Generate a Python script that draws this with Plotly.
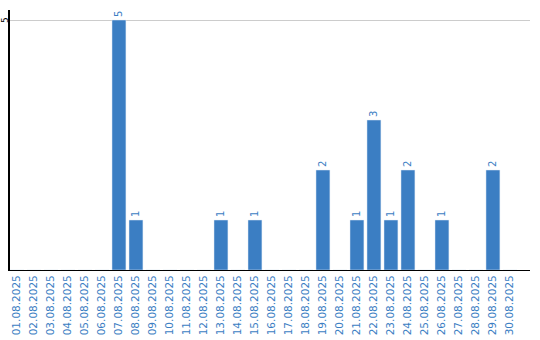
import plotly.graph_objects as go

dates = [f"{d:02d}.08.2025" for d in range(1, 31)]
counts = [0, 0, 0, 0, 0, 0, 5, 1, 0, 0, 0, 0, 1, 0, 1, 0, 0, 0, 2, 0,
          1, 3, 1, 2, 0, 1, 0, 0, 2, 0]
labels = [str(v) if v else "" for v in counts]
y_ticks = [5]

blue = "#3b7ec3"

fig = go.Figure(go.Bar(
    x=dates, y=counts, text=labels, textposition="outside",
    textangle=-90, cliponaxis=False, marker_color=blue,
    textfont=dict(family="DejaVu Sans", size=10, color=blue),
))
fig.update_layout(
    width=540, height=340,
    margin=dict(l=10, r=10, t=10, b=70),
    plot_bgcolor="white", paper_bgcolor="white",
    bargap=0.18, showlegend=False,
    font=dict(family="DejaVu Sans", size=10),
)
fig.update_xaxes(
    type="category", range=[-0.41, 30.18], tickangle=-90,
    showline=True, linecolor="black", linewidth=1, ticks="",
    tickfont=dict(family="DejaVu Sans", size=10.5, color=blue),
    showgrid=False, automargin=False,
)
fig.update_yaxes(
    range=[0, 5.2], tickvals=y_ticks, showticklabels=False,
    showline=True, linecolor="black", linewidth=1.5, ticks="",
    showgrid=True, gridcolor="#cccccc", zeroline=False,
    automargin=False,
)
for v in y_ticks:
    fig.add_annotation(
        x=0, xref="paper", y=v, yref="y", text=str(v), textangle=-90,
        showarrow=False, xanchor="center", yanchor="middle", xshift=-5,
        borderpad=0,
        font=dict(family="DejaVu Sans", size=9, color="black"),
    )
fig.write_html("out.html")
